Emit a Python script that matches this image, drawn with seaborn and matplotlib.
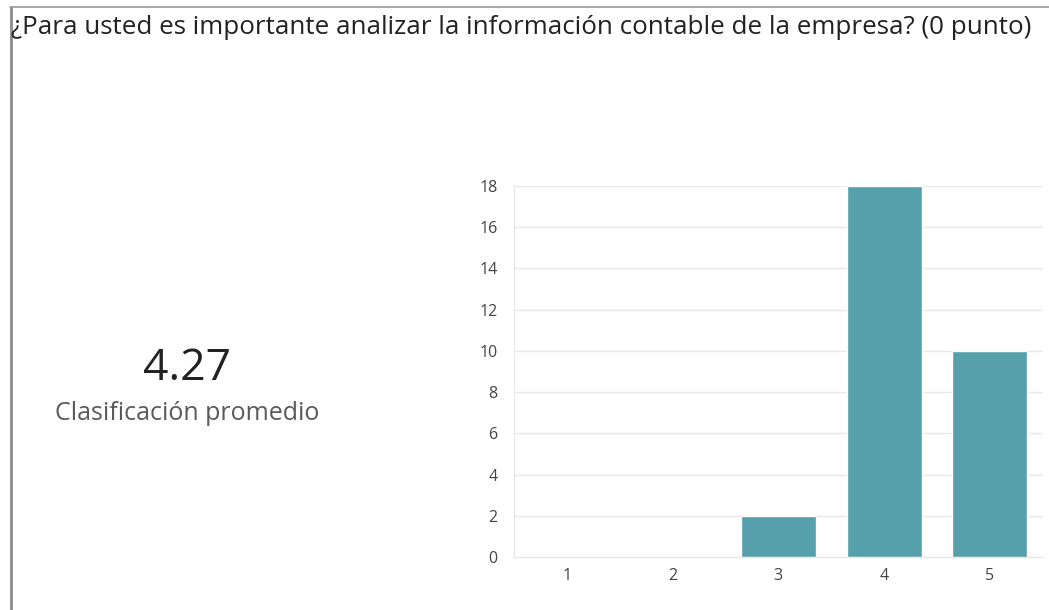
import matplotlib
matplotlib.use("Agg")
import pandas as pd
import matplotlib.pyplot as plt
import seaborn as sns

# Datos de la encuesta
calificaciones = ["1", "2", "3", "4", "5"]
respuestas = [0, 0, 2, 18, 10]
promedio = "4.27"
titulo = "¿Para usted es importante analizar la información contable de la empresa? (0 punto)"
subtitulo = "Clasificación promedio"
yticks = [0, 2, 4, 6, 8, 10, 12, 14, 16, 18]

df = pd.DataFrame({"calificacion": calificaciones, "respuestas": respuestas})

sns.set_style("white")
plt.rcParams["font.family"] = ["Open Sans", "DejaVu Sans"]

fig = plt.figure(figsize=(10.49, 6.10), dpi=100)
ax = fig.add_axes([0.490, 0.087, 0.504, 0.608])

sns.barplot(data=df, x="calificacion", y="respuestas", color="#55a0aa",
            saturation=1, width=0.71, ax=ax)

ax.set_ylim(0, 18)
ax.set_yticks(yticks)
ax.yaxis.grid(True, color="#e8e8e8", linewidth=1)
ax.set_axisbelow(True)
ax.set_xlabel("")
ax.set_ylabel("")
for s in ["top", "right"]:
    ax.spines[s].set_visible(False)
ax.spines["left"].set_color("#e6e6e6")
ax.spines["bottom"].set_color("#e6e6e6")
ax.tick_params(axis="both", length=0, labelsize=11.5, colors="#444444")
ax.tick_params(axis="y", pad=12)
ax.tick_params(axis="x", pad=8)

# Marco de la tarjeta
fig.add_artist(plt.Line2D([10.5 / 1049, 10.5 / 1049], [0, 1 - 7 / 610],
                          transform=fig.transFigure, color="#8c8c8c", linewidth=2))
fig.add_artist(plt.Line2D([10 / 1049, 1], [1 - 7 / 610, 1 - 7 / 610],
                          transform=fig.transFigure, color="#9a9a9a", linewidth=1.2))

fig.text(11 / 1049, 1 - 28 / 610, titulo, fontsize=18.7, color="#222222",
         ha="left", va="center")
fig.text(187 / 1049, 1 - 369 / 610, promedio, fontsize=32, color="#222222",
         ha="center", va="center")
fig.text(187 / 1049, 1 - 414 / 610, subtitulo, fontsize=18, color="#5a5a5a",
         ha="center", va="center")

fig.savefig("out.png", dpi=100, facecolor="white")
